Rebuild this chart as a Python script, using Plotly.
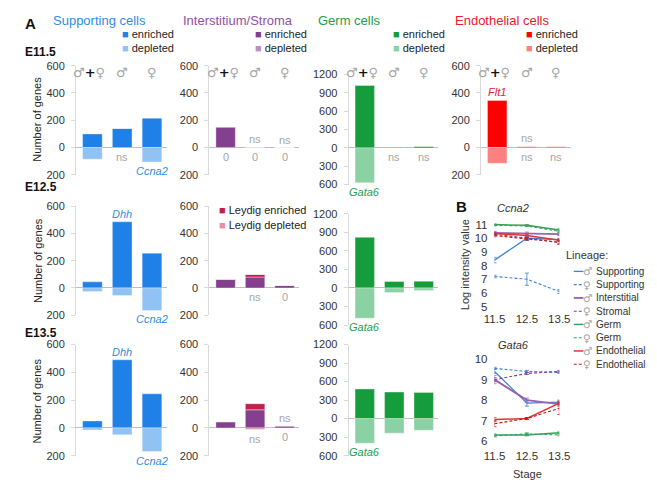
import plotly.graph_objects as go

W, H = 657, 480

categories = ["♂+♀", "♂", "♀"]

# ---------------- Panel A data (number of genes) ----------------
# E11.5
sup_enr_e115 = [100, 140, 215]
sup_dep_e115 = [-85, 0, -105]
int_enr_e115 = [150, 3, 0]
int_dep_e115 = [0, 0, 0]
germ_enr_e115 = [1020, 15, 25]
germ_dep_e115 = [-570, 0, 0]
endo_enr_e115 = [345, 8, 8]
endo_dep_e115 = [-115, 0, 0]
# E12.5
sup_enr_e125 = [45, 485, 255]
sup_dep_e125 = [-25, -55, -165]
int_enr_e125 = [65, 80, 20]
int_dep_e125 = [0, 0, 0]
leydig_enr_e125 = [0, 20, 0]
leydig_dep_e125 = [0, 0, 0]
germ_enr_e125 = [820, 105, 110]
germ_dep_e125 = [-490, -75, -40]
# E13.5
sup_enr_e135 = [50, 490, 245]
sup_dep_e135 = [-15, -50, -170]
int_enr_e135 = [45, 130, 15]
int_dep_e135 = [0, 0, 0]
leydig_enr_e135 = [0, 45, 0]
leydig_dep_e135 = [0, -12, 0]
germ_enr_e135 = [480, 430, 425]
germ_dep_e135 = [-400, -235, -190]

# significance labels (grey)
blank = ["", "", ""]
sup_below_e115 = ["", "ns", ""]
int_above_e115 = ["", "ns", "ns"]
int_below_e115 = ["0", "0", "0"]
germ_below_e115 = ["", "ns", "ns"]
endo_above_e115 = ["", "ns", ""]
endo_below_e115 = ["", "ns", "ns"]
int_below_e125 = ["", "ns", "0"]
int_above_e135 = ["", "", "ns"]
int_below_e135 = ["", "ns", "0"]

# gene labels (coloured, italic)
sup_gene_above = ["", "Dhh", ""]
sup_gene_below = ["", "", "Ccna2"]
germ_gene_below = ["Gata6", "", ""]
endo_gene_above = ["Flt1", "", ""]

std_ticks = [600, 400, 200, 0, -200]
std_ticktext = ["600", "400", "200", "0", "200"]
germ_ticks = [1200, 900, 600, 300, 0, -300, -600]
germ_ticktext = ["1200", "900", "600", "300", "0", "300", "600"]

# ---------------- Panel B data (log intensity) ----------------
stages = [11.5, 12.5, 13.5]
lineage_names = ["Supporting", "Supporting", "Interstitial", "Stromal",
                 "Germ", "Germ", "Endothelial", "Endothelial"]
lineage_sex = ["♂", "♀", "♂", "♀", "♂", "♀", "♂", "♀"]
ccna2_m_sup = [8.4, 10.0, 9.9]
ccna2_f_sup = [7.2, 7.0, 6.1]
ccna2_m_int = [10.4, 10.35, 10.3]
ccna2_f_str = [10.3, 10.0, 9.7]
ccna2_m_germ = [11.0, 10.95, 10.6]
ccna2_f_germ = [10.95, 10.9, 10.5]
ccna2_m_endo = [10.35, 10.2, 9.85]
ccna2_f_endo = [10.2, 9.95, 9.7]
ccna2_err = [[0.2, 0.15, 0.1], [0.1, 0.45, 0.15], [0.1, 0.1, 0.1], [0.1, 0.1, 0.1],
             [0.05, 0.05, 0.1], [0.05, 0.05, 0.1], [0.1, 0.1, 0.1], [0.1, 0.1, 0.15]]
gata6_m_sup = [9.4, 7.85, 7.9]
gata6_f_sup = [9.55, 9.4, 9.35]
gata6_m_int = [9.0, 8.0, 7.8]
gata6_f_str = [9.0, 9.3, 9.4]
gata6_m_germ = [6.3, 6.3, 6.4]
gata6_f_germ = [6.25, 6.35, 6.3]
gata6_m_endo = [7.05, 7.1, 7.85]
gata6_f_endo = [6.85, 7.1, 7.6]
gata6_err = [[0.1, 0.15, 0.1], [0.05, 0.05, 0.05], [0.2, 0.1, 0.1], [0.1, 0.05, 0.05],
             [0.05, 0.05, 0.05], [0.05, 0.05, 0.05], [0.1, 0.05, 0.1], [0.15, 0.05, 0.3]]

# ---------------- styles ----------------
FONT = "Arial, Liberation Sans, sans-serif"
SYM_FONT = "DejaVu Sans, sans-serif"
SUP_E, SUP_D, SUP_T = "#1f80e8", "#90c2f4", "#2f8ce6"
INT_E, INT_D, INT_T = "#843f8f", "#b98fc3", "#94509f"
LEY_E, LEY_D = "#c41e4a", "#e88fa0"
GER_E, GER_D, GER_T = "#159c3b", "#8cd1a4", "#22a046"
END_E, END_D, END_T = "#ff0000", "#ff8080", "#e8202a"
GREY = "#a6a6a6"

line_colors = ["#3f82d8", "#3f82d8", "#9a62ac", "#7b3f8f",
               "#35a35e", "#35a35e", "#e03535", "#c01818"]
line_dash = ["solid", "3px,2px", "solid", "3px,2px", "solid", "3px,2px", "solid", "3px,2px"]
line_width = [1.3, 1.1, 1.8, 1.1, 1.5, 1.1, 1.5, 1.1]

col_x = [(59, 153), (197, 290), (341, 434), (478, 571)]
row_std_y = [(53, 165), (197, 309), (339, 453)]
row_germ_y = [(62, 175), (205, 319), (339, 453)]


def ax_names(idx):
    return ("x" if idx == 1 else f"x{idx}"), ("y" if idx == 1 else f"y{idx}")


panels = [
    dict(row=0, col=0, germ=False, series=[(sup_enr_e115, SUP_E), (sup_dep_e115, SUP_D)],
         above=blank, below=sup_below_e115, g_above=blank, g_below=sup_gene_below, gcol=SUP_T),
    dict(row=0, col=1, germ=False, series=[(int_enr_e115, INT_E), (int_dep_e115, INT_D)],
         above=int_above_e115, below=int_below_e115, g_above=blank, g_below=blank, gcol=INT_T),
    dict(row=0, col=2, germ=True, series=[(germ_enr_e115, GER_E), (germ_dep_e115, GER_D)],
         above=blank, below=germ_below_e115, g_above=blank, g_below=germ_gene_below, gcol=GER_T),
    dict(row=0, col=3, germ=False, series=[(endo_enr_e115, END_E), (endo_dep_e115, END_D)],
         above=endo_above_e115, below=endo_below_e115, g_above=endo_gene_above, g_below=blank, gcol=END_T),
    dict(row=1, col=0, germ=False, series=[(sup_enr_e125, SUP_E), (sup_dep_e125, SUP_D)],
         above=blank, below=blank, g_above=sup_gene_above, g_below=sup_gene_below, gcol=SUP_T),
    dict(row=1, col=1, germ=False, series=[(int_enr_e125, INT_E), (leydig_enr_e125, LEY_E),
                                            (int_dep_e125, INT_D), (leydig_dep_e125, LEY_D)],
         above=blank, below=int_below_e125, g_above=blank, g_below=blank, gcol=INT_T),
    dict(row=1, col=2, germ=True, series=[(germ_enr_e125, GER_E), (germ_dep_e125, GER_D)],
         above=blank, below=blank, g_above=blank, g_below=germ_gene_below, gcol=GER_T),
    dict(row=2, col=0, germ=False, series=[(sup_enr_e135, SUP_E), (sup_dep_e135, SUP_D)],
         above=blank, below=blank, g_above=sup_gene_above, g_below=sup_gene_below, gcol=SUP_T),
    dict(row=2, col=1, germ=False, series=[(int_enr_e135, INT_E), (leydig_enr_e135, LEY_E),
                                            (int_dep_e135, INT_D), (leydig_dep_e135, LEY_D)],
         above=int_above_e135, below=int_below_e135, g_above=blank, g_below=blank, gcol=INT_T),
    dict(row=2, col=2, germ=True, series=[(germ_enr_e135, GER_E), (germ_dep_e135, GER_D)],
         above=blank, below=blank, g_above=blank, g_below=germ_gene_below, gcol=GER_T),
]

fig = go.Figure()
layout = {}
annotations = []
shapes = []


def ann(text, x, y, size=11, color="#222", xanchor="center", yanchor="middle", **kw):
    d = dict(text=text, x=x / W, y=1 - y / H, xref="paper", yref="paper", showarrow=False,
             font=dict(family=kw.pop("family", FONT), size=size, color=color),
             xanchor=xanchor, yanchor=yanchor)
    d.update(kw)
    annotations.append(d)


for i, p in enumerate(panels):
    idx = i + 1
    xa, ya = ax_names(idx)
    x0, x1 = col_x[p["col"]]
    yt, yb = (row_germ_y if p["germ"] else row_std_y)[p["row"]]
    for vals, colr in p["series"]:
        fig.add_bar(x=categories, y=vals, marker=dict(color=colr, line=dict(width=0.6, color="rgba(255,255,255,0.6)")),
                    width=0.66, xaxis=xa, yaxis=ya, showlegend=False, hoverinfo="skip")
    layout["xaxis" if idx == 1 else f"xaxis{idx}"] = dict(
        domain=[x0 / W, x1 / W], range=[-0.55, 2.5], type="category", visible=False, anchor=ya)
    layout["yaxis" if idx == 1 else f"yaxis{idx}"] = dict(
        domain=[1 - yb / H, 1 - yt / H],
        range=[-600, 1200] if p["germ"] else [-200, 600],
        tickvals=germ_ticks if p["germ"] else std_ticks,
        ticktext=germ_ticktext if p["germ"] else std_ticktext,
        showline=True, linecolor="#d9d9d9", linewidth=1, ticks="outside", ticklen=4,
        tickcolor="#d9d9d9", showgrid=False, zeroline=True, zerolinecolor="#bdbdbd",
        zerolinewidth=1, tickfont=dict(family=FONT, size=11, color="#333"),
        ticklabelstandoff=4, anchor=xa, fixedrange=True)
    for k in range(3):
        top = sum(s[0][k] for s in p["series"] if s[0][k] > 0)
        bot = sum(s[0][k] for s in p["series"] if s[0][k] < 0)
        for txt, yv, anc, col, ital in [(p["above"][k], top, "bottom", GREY, False),
                                        (p["below"][k], bot, "top", GREY, False),
                                        (p["g_above"][k], top, "bottom", p["gcol"], True),
                                        (p["g_below"][k], bot, "top", p["gcol"], True)]:
            if not txt:
                continue
            annotations.append(dict(
                text=f"<i>{txt}</i>" if ital else txt, x=categories[k], y=yv, xref=xa, yref=ya,
                showarrow=False, yanchor=anc, yshift=-1 if anc == "top" else 0,
                font=dict(family=FONT, size=11, color=col)))

# sex symbols above row 1 panels
for i in range(4):
    xa, _ = ax_names(i + 1)
    for k, c in enumerate(categories):
        if k == 0:
            txt = f'<span style="color:{GREY}">♂</span><b>+</b><span style="color:{GREY}">♀</span>'
        else:
            txt = c
        annotations.append(dict(text=txt, x=c, y=1 - 50 / H, xref=xa, yref="paper", showarrow=False,
                                xshift=-3 if k == 0 else 0,
                                font=dict(family=SYM_FONT, size=13, color=GREY if k else "#111")))

# headers and legends
ann("<b>A</b>", 4, 10, size=15, color="#111", xanchor="left")
headers = [("Supporting cells", 33, SUP_T, SUP_E, SUP_D, 104),
           ("Interstitium/Stroma", 168, INT_T, INT_E, INT_D, 242),
           ("Germ cells", 307, GER_T, GER_E, GER_D, 385),
           ("Endothelial cells", 449, END_T, END_E, END_D, 522)]
for name, hx, tcol, ce, cd, lx in headers:
    ann(name, hx, 7, size=13, color=tcol, xanchor="left")
    ann(f'<span style="color:{ce}">■</span> enriched', lx, 21, size=11, color="#222", xanchor="left")
    ann(f'<span style="color:{cd}">■</span> depleted', lx, 35, size=11, color="#222", xanchor="left")
ann(f'<span style="color:{LEY_E}">■</span> Leydig enriched', 205, 201, size=11, xanchor="left")
ann(f'<span style="color:{LEY_D}">■</span> Leydig depleted', 205, 216, size=11, xanchor="left")

for lab, yy in [("E11.5", 39), ("E12.5", 177), ("E13.5", 327)]:
    ann(f"<b>{lab}</b>", 4, yy, size=12, color="#111", xanchor="left")
for yy in [108, 253, 397]:
    ann("Number of genes", 19, yy, size=11, color="#222", textangle=-90)

# ---------------- Panel B line charts ----------------
ccna2_series = [ccna2_m_sup, ccna2_f_sup, ccna2_m_int, ccna2_f_str,
                ccna2_m_germ, ccna2_f_germ, ccna2_m_endo, ccna2_f_endo]
gata6_series = [gata6_m_sup, gata6_f_sup, gata6_m_int, gata6_f_str,
                gata6_m_germ, gata6_f_germ, gata6_m_endo, gata6_f_endo]

line_axes = [(11, ccna2_series, ccna2_err, [4.7, 11.2], list(range(5, 12)), (213.2, 304.2)),
             (12, gata6_series, gata6_err, [5.7, 10.1], list(range(6, 11)), (351.9, 444.3))]
for idx, series, errs, yr, yticks, (yt, yb) in line_axes:
    xa, ya = ax_names(idx)
    for j, vals in enumerate(series):
        fig.add_scatter(x=stages, y=vals, mode="lines", xaxis=xa, yaxis=ya, showlegend=False,
                        line=dict(color=line_colors[j], dash=line_dash[j], width=line_width[j]),
                        error_y=dict(type="data", array=errs[j], thickness=0.8, width=2,
                                     color=line_colors[j]),
                        cliponaxis=False, hoverinfo="skip")
    layout[f"xaxis{idx}"] = dict(domain=[492 / W, 559 / W], range=[11.5, 13.5], anchor=ya,
                                 tickvals=stages, ticktext=["11.5", "12.5", "13.5"],
                                 showline=False, showgrid=False, zeroline=False, ticks="",
                                 tickfont=dict(family=FONT, size=11.5, color="#333"), fixedrange=True)
    layout[f"yaxis{idx}"] = dict(domain=[1 - yb / H, 1 - yt / H], range=yr, anchor=xa,
                                 tickvals=yticks, showline=False, showgrid=False, zeroline=False,
                                 ticks="", tickfont=dict(family=FONT, size=11.5, color="#333"),
                                 ticklabelstandoff=6, fixedrange=True)

ann("<b>B</b>", 458, 197, size=15, color="#111")
ann("<i>Ccna2</i>", 511, 199, size=11, color="#333")
ann("<i>Gata6</i>", 512, 339, size=11, color="#333")
ann("Log intensity value", 461, 257, size=11, color="#333", textangle=-90)
ann("Stage", 526, 472, size=11, color="#333")
ann("Lineage:", 564, 247, size=11, color="#333", xanchor="left")

for j in range(8):
    yy = 264 + j * 13.6
    shapes.append(dict(type="line", xref="paper", yref="paper", x0=574 / W, x1=584 / W,
                       y0=1 - yy / H, y1=1 - yy / H,
                       line=dict(color=line_colors[j], width=line_width[j], dash=line_dash[j])))
    ann(lineage_sex[j], 588, yy, size=10.5, color=GREY, family=SYM_FONT)
    ann(lineage_names[j], 595, yy, size=10, color="#333", xanchor="left")

fig.update_layout(**layout)
fig.update_layout(width=W, height=H, margin=dict(l=0, r=0, t=0, b=0),
                  paper_bgcolor="white", plot_bgcolor="white", barmode="relative",
                  annotations=annotations, shapes=shapes, font=dict(family=FONT))
fig.write_html("out.html")
